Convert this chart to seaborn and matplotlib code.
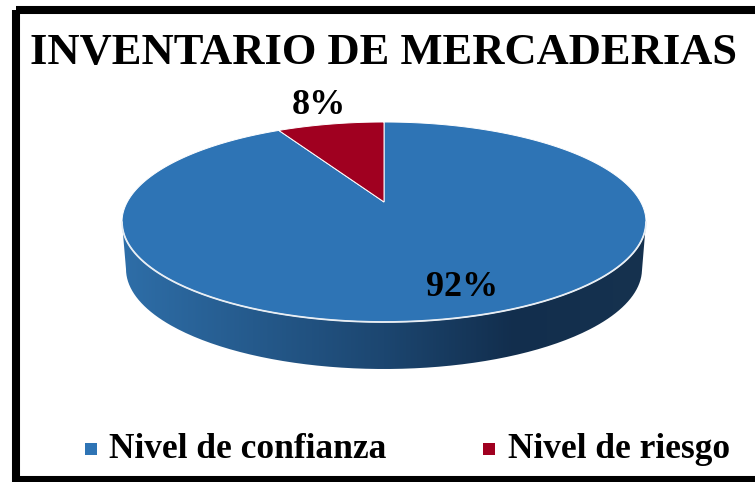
import numpy as np
import matplotlib
matplotlib.use("Agg")
import matplotlib.pyplot as plt
import seaborn as sns
from matplotlib.colors import LinearSegmentedColormap
from matplotlib.patches import PathPatch, Rectangle
from matplotlib.path import Path

categories = ["Nivel de confianza", "Nivel de riesgo"]
values = [92, 8]
colors = ["#2E74B5", "#A00020"]
title = "INVENTARIO DE MERCADERIAS"
side_colors = ["#2E6EA8", "#255A8C", "#1C4670", "#122E4D", "#16324F"]

sns.set_theme(style="white")
plt.rcParams["font.family"] = ["Liberation Serif", "DejaVu Serif"]
plt.rcParams["font.weight"] = "bold"

fig = plt.figure(figsize=(7.55, 4.82), dpi=100)
ax = fig.add_axes([0, 0, 1, 1])

# pie geometry, in pixels of the picture
cx, cy = 384, 222
rx, ry = 262, 100
tilt = 0.2  # apex sits above the ellipse centre, perspective


def project(theta):
    # circle to ellipse, with the centre pushed back
    x, y = np.cos(theta), np.sin(theta)
    d = 1 + tilt * y
    return cx + rx * x * np.sqrt(1 - tilt**2) / d, cy - ry * (y + tilt) / d


# side wall with a left to right shading
t = np.linspace(np.pi, 2 * np.pi, 200)
top_x, top_y = cx + rx * np.cos(t), cy - ry * np.sin(t)
low_x, low_y = cx + 258 * np.cos(t), 269 - 100 * np.sin(t)
wall = np.vstack([np.column_stack([top_x, top_y]), np.column_stack([low_x, low_y])[::-1]])
wall_patch = PathPatch(Path(np.vstack([wall, wall[0]])), fc="none", ec="none", transform=ax.transData)
ax.add_patch(wall_patch)
cmap = LinearSegmentedColormap.from_list("side", side_colors)
img = ax.imshow(np.linspace(0, 1, 256)[None, :], cmap=cmap, aspect="auto",
                extent=(cx - rx, cx + rx, 380, 210), zorder=1)
img.set_clip_path(wall_patch)
ax.set_xlim(0, 755)
ax.set_ylim(482, 0)
ax.axis("off")

# first slice runs clockwise from twelve o'clock, the second closes the circle
shares = np.array(values) / sum(values) * 2 * np.pi
start = np.pi / 2
spans = [(start + shares[1], start + 2 * np.pi), (start, start + shares[1])]
for color, (a0, a1) in zip(colors, spans):
    px, py = project(np.linspace(a0, a1, 300))
    ax.fill(np.r_[cx, px], np.r_[cy - ry * tilt, py], color=color, ec="white", lw=0.7, zorder=2)

# white rim along the front
ax.plot(top_x, top_y, color="#E8EEF4", lw=1.3, zorder=3)

label_pos = [(462, 287), (319, 105)]
for v, pos in zip(values, label_pos):
    ax.text(pos[0], pos[1], f"{v}%", ha="center", va="center", fontsize=26, color="black", zorder=4)

ax.text(384, 53, title, ha="center", va="center", fontsize=32, color="black")

# legend row
legend_marks = [90.5, 489]
legend_text = [109, 508]
for mark, tx, c, name in zip(legend_marks, legend_text, colors, categories):
    ax.scatter([mark], [449], marker="s", s=68, color=c, linewidths=0, zorder=4)
    ax.text(tx, 458, name, ha="left", va="baseline", fontsize=25.5, color="black")

# black frame, the right side falls outside the picture
ax.add_patch(Rectangle((15.5, 10), 760, 470, fc="none", ec="black", lw=5.8, zorder=5))

fig.savefig("out.png", dpi=100)
